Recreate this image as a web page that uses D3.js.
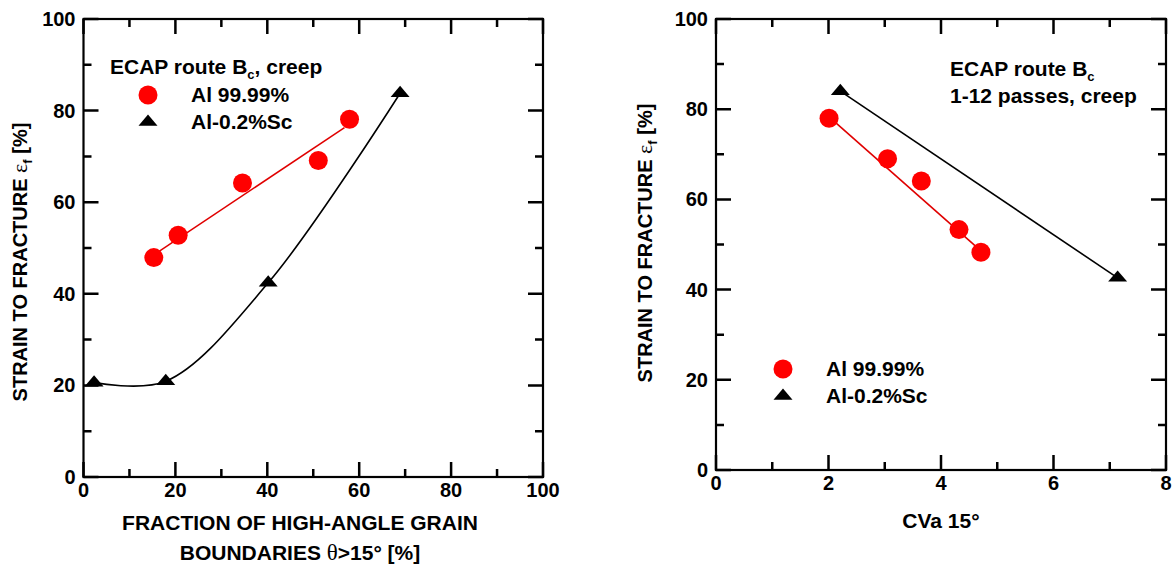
<!DOCTYPE html>
<html>
<head>
<meta charset="utf-8">
<title>Strain to fracture vs HAGB fraction and CVa</title>
<script src="https://d3js.org/d3.v7.min.js"></script>
<style>
  body { margin: 0; background: #fff; }
  svg text { font-family: "Liberation Sans", Arial, sans-serif; font-weight: bold; fill: #000; }
  .sym { font-family: "Liberation Serif", "DejaVu Serif", serif; font-weight: normal; }
</style>
</head>
<body>
<svg width="1174" height="570"></svg>
<script>
// ---- data ----
// left panel: strain to fracture vs fraction of HAGB (%)
var pureFrac   = [15.3, 20.6, 34.6, 51.1, 57.9];
var pureStrain = [47.9, 52.8, 64.2, 69.1, 78.1];
var pureFitFrac   = [15.3, 56.8];
var pureFitStrain = [48.5, 76.3];
var scFrac   = [2.3, 17.9, 40.2, 68.9];
var scStrain = [20.6, 20.9, 42.4, 83.8];

// right panel: strain to fracture vs CVa 15°
var pureCva       = [2.01, 3.05, 3.65, 4.32, 4.71];
var pureStrainCva = [78.0, 69.0, 64.1, 53.3, 48.3];
var pureFitCva       = [2.01, 4.70];
var pureFitStrainCva = [78.3, 48.7];
var scCva       = [2.21, 7.14];
var scStrainCva = [84.0, 42.6];

// ticks
var fracMajor = [0, 20, 40, 60, 80, 100],
    fracMinor = [10, 30, 50, 70, 90],
    cvaMajor  = [0, 2, 4, 6, 8],
    cvaMinor  = [1, 3, 5, 7],
    strainMajor = [0, 20, 40, 60, 80, 100],
    strainMinor = [10, 30, 50, 70, 90];

var zip = function(a, b) { return a.map(function(v, i) { return [v, b[i]]; }); };

var svg = d3.select("svg");
svg.append("rect").attr("width", 1174).attr("height", 570).attr("fill", "#fff");

function panel(cfg) {
  var x = d3.scaleLinear().domain(cfg.xdom).range([cfg.left, cfg.right]),
      y = d3.scaleLinear().domain([0, 100]).range([cfg.bottom, cfg.top]);
  var g = svg.append("g");

  // inward ticks on all four sides, drawn as one path
  var p = d3.path();
  function xticks(vals, len) {
    vals.forEach(function(v) {
      var px = x(v);
      p.moveTo(px, cfg.bottom); p.lineTo(px, cfg.bottom - len);
      p.moveTo(px, cfg.top); p.lineTo(px, cfg.top + len);
    });
  }
  function yticks(vals, len) {
    vals.forEach(function(v) {
      var py = y(v);
      p.moveTo(cfg.left, py); p.lineTo(cfg.left + len, py);
      p.moveTo(cfg.right, py); p.lineTo(cfg.right - len, py);
    });
  }
  xticks(cfg.xMajor, 15); xticks(cfg.xMinor, 8);
  yticks(strainMajor, 15); yticks(strainMinor, 8);
  g.append("path").attr("d", p.toString())
    .attr("fill", "none").attr("stroke", "#000").attr("stroke-width", 2.5);

  // tick labels
  g.selectAll("text.xl").data(cfg.xMajor).enter().append("text")
    .attr("class", "xl")
    .attr("x", function(d) { return x(d); })
    .attr("y", cfg.bottom + 20)
    .attr("text-anchor", "middle").style("font-size", "20px")
    .text(function(d) { return d; });
  g.selectAll("text.yl").data(strainMajor).enter().append("text")
    .attr("class", "yl")
    .attr("x", cfg.left - 8)
    .attr("y", function(d) { return y(d) + 7; })
    .attr("text-anchor", "end").style("font-size", "20px")
    .text(function(d) { return d; });

  g.append("rect")
    .attr("x", cfg.left).attr("y", cfg.top)
    .attr("width", cfg.right - cfg.left).attr("height", cfg.bottom - cfg.top)
    .attr("fill", "none").attr("stroke", "#000").attr("stroke-width", 2.2);

  var line = d3.line().x(function(d) { return x(d[0]); }).y(function(d) { return y(d[1]); });

  g.append("path").datum(cfg.redFit)
    .attr("d", line).attr("fill", "none").attr("stroke", "#e00000").attr("stroke-width", 1.6);
  g.append("path").datum(cfg.black)
    .attr("d", line.curve(cfg.curve || d3.curveLinear))
    .attr("fill", "none").attr("stroke", "#000").attr("stroke-width", 1.6);

  g.selectAll("circle.pt").data(cfg.red).enter().append("circle")
    .attr("class", "pt")
    .attr("cx", function(d) { return x(d[0]); })
    .attr("cy", function(d) { return y(d[1]); })
    .attr("r", 9.5).attr("fill", "#f00");

  var tri = d3.symbol().type(d3.symbolTriangle).size(100);
  g.selectAll("path.tri").data(cfg.black).enter().append("path")
    .attr("class", "tri")
    .attr("d", tri)
    .attr("transform", function(d) { return "translate(" + x(d[0]) + "," + y(d[1]) + ") scale(1.25,0.85)"; })
    .attr("fill", "#000");

  // legend
  var lg = cfg.legend;
  g.append("circle").attr("cx", lg.x).attr("cy", lg.y).attr("r", 9.5).attr("fill", "#f00");
  g.append("path").attr("d", tri)
    .attr("transform", "translate(" + lg.x + "," + (lg.y + 27) + ") scale(1.25,0.85)")
    .attr("fill", "#000");
  g.append("text").attr("x", lg.x + 43).attr("y", lg.y + 7).style("font-size", "21px").text("Al 99.99%");
  g.append("text").attr("x", lg.x + 43).attr("y", lg.y + 34).style("font-size", "21px").text("Al-0.2%Sc");

  // y title
  var yt = g.append("text")
    .attr("transform", "translate(" + cfg.ytx + "," + cfg.yty + ") rotate(-90)")
    .attr("text-anchor", "middle").style("font-size", "20px");
  yt.append("tspan").text("STRAIN TO FRACTURE ");
  yt.append("tspan").attr("class", "sym").style("font-size", "22px").text("\u03b5");
  yt.append("tspan").attr("dy", 5).style("font-size", "13px").text("f");
  yt.append("tspan").attr("dy", -5).text(" [%]");

  return g;
}

var left = panel({
  left: 83.5, right: 543, top: 19, bottom: 477,
  xdom: [0, 100], xMajor: fracMajor, xMinor: fracMinor,
  red: zip(pureFrac, pureStrain),
  redFit: zip(pureFitFrac, pureFitStrain),
  black: zip(scFrac, scStrain),
  curve: d3.curveCatmullRom,
  legend: { x: 148, y: 95 },
  ytx: 27, yty: 262
});

var title1 = left.append("text").attr("x", 110).attr("y", 74).style("font-size", "21px");
title1.append("tspan").text("ECAP route B");
title1.append("tspan").attr("dy", 5).style("font-size", "13px").text("c");
title1.append("tspan").attr("dy", -5).text(", creep");

left.append("text").attr("text-anchor", "middle").attr("x", 300).attr("y", 530)
  .style("font-size", "21px").text("FRACTION OF HIGH-ANGLE GRAIN");
var xt2 = left.append("text").attr("text-anchor", "middle").attr("x", 300).attr("y", 560).style("font-size", "21px");
xt2.append("tspan").text("BOUNDARIES ");
xt2.append("tspan").attr("class", "sym").style("font-size", "23px").text("\u03b8");
xt2.append("tspan").text(">15\u00b0 [%]");

var right = panel({
  left: 716, right: 1166, top: 19, bottom: 470,
  xdom: [0, 8], xMajor: cvaMajor, xMinor: cvaMinor,
  red: zip(pureCva, pureStrainCva),
  redFit: zip(pureFitCva, pureFitStrainCva),
  black: zip(scCva, scStrainCva),
  legend: { x: 783, y: 369 },
  ytx: 652, yty: 243
});

var t2 = right.append("text").attr("x", 950).attr("y", 76).style("font-size", "21px");
t2.append("tspan").text("ECAP route B");
t2.append("tspan").attr("dy", 5).style("font-size", "13px").text("c");
right.append("text").attr("x", 950).attr("y", 103).style("font-size", "21px").text("1-12 passes, creep");

right.append("text").attr("x", 941).attr("y", 528).attr("text-anchor", "middle")
  .style("font-size", "21px").text("CVa 15\u00b0");
</script>
</body>
</html>
